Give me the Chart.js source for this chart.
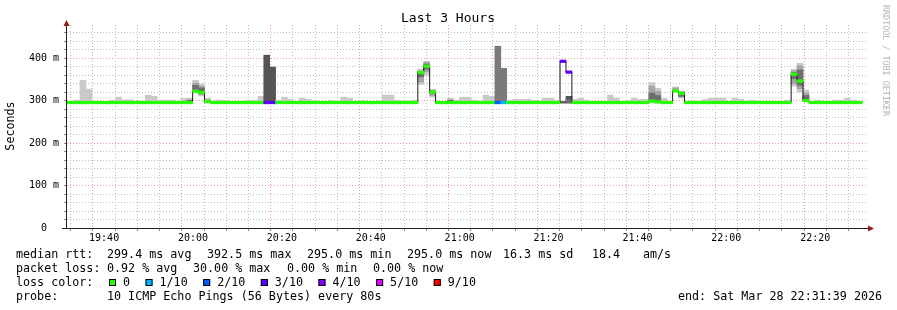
<!DOCTYPE html>
<html><head><meta charset="utf-8">
<script src="https://cdn.jsdelivr.net/npm/chart.js@4/dist/chart.umd.min.js"></script>
<style>html,body{margin:0;padding:0;background:#fff;overflow:hidden}canvas{display:block}</style>
</head><body><canvas id="c" width="897" height="310"></canvas>
<script>
// ---------------- data ----------------
const chartTitle = 'Last 3 Hours';
const axisTitle = 'Seconds';
const watermark = 'RRDTOOL / TOBI OETIKER';
const rangeStart = '19:31:39';
const rangeEnd = '22:31:39';
const firstStepEnd = '19:31:55';
const stepSeconds = 80;

// median round-trip time per step (ms)
const medianRtt = [
 295.4,295.4,295.4,295.4,295.4,295.4,295.4,295.4,295.4,295.4,
 295.4,295.4,295.4,295.4,295.4,295.4,295.4,295.4,295.4,295.4,
 295.4,295.4,322,319,298,295.4,295.4,295.4,295.4,295.4,
 295.4,295.4,295.4,295.4,295.4,295.4,295.4,295.4,295.4,295.4,
 295.4,295.4,295.4,295.4,295.4,295.4,295.4,295.4,295.4,295.4,
 295.4,295.4,295.4,295.4,295.4,295.4,295.4,295.4,295.4,295.4,
 366,381,320,295.4,295.4,295.4,295.4,295.4,295.4,295.4,
 295.4,295.4,295.4,295.4,295.4,295.4,295.4,295.4,295.4,295.4,
 295.4,295.4,295.4,295.4,392.5,367,295.4,295.4,295.4,295.4,
 295.4,295.4,295.4,295.4,295.4,295.4,295.4,295.4,295.4,299,
 297,295.4,295.4,323,317,295.4,295.4,295.4,295.4,295.4,
 295.4,295.4,295.4,295.4,295.4,295.4,295.4,295.4,295.4,295.4,
 295.4,295.4,295.4,362,346,300,295.4,295.4,295.4,295.4,
 295.4,295.4,295.4,295.4,295.4
];
// lost pings out of 10 per step
const lossTenths = [
 0,0,0,0,0,0,0,0,0,0, 0,0,0,0,0,0,0,0,0,0, 0,0,0,0,0,0,0,0,0,0,
 0,0,0,0,3,3,0,0,0,0, 0,0,0,0,0,0,0,0,0,0, 0,0,0,0,0,0,0,0,0,0,
 0,0,0,0,0,0,0,0,0,0, 0,0,0,2,1,0,0,0,0,0, 0,0,0,0,3,3,0,0,0,0,
 0,0,0,0,0,0,0,0,0,0, 0,0,0,0,0,0,0,0,0,0, 0,0,0,0,0,0,0,0,0,0,
 0,0,0,0,0,0,0,0,0,0, 0,0,0,0,0
];
// lowest and highest ping per step (ms)
const smokeMin = [
 294,294,294,294,294,294,294,294,294,294,
 294,294,294,294,294,294,294,294,294,294,
 294,294,318,311,294,294,294,294,294,294,
 294,294,294,294,294,294,294,294,294,294,
 294,294,294,294,294,294,294,294,294,294,
 294,294,294,294,294,294,294,294,294,294,
 338,360,308,294,294,294,294,294,294,294,
 294,294,294,294,294,294,294,294,294,294,
 294,294,294,294,294,294,294,294,294,294,
 294,294,294,294,294,294,294,294,294,294,
 294,294,294,320,306,294,294,294,294,294,
 294,294,294,294,294,294,294,294,294,294,
 294,294,294,334,320,298,294,294,294,294,
 294,294,294,294,294
];
const smokeMax = [
 298,298,301,348,327,298,298,298,301,308,
 302,302,298,298,313,310,301,301,301,298,
 305,306,348,339,306,299,301,301,298,298,
 298,301,301,310,407,379,301,308,303,298,
 306,303,300,298,298,300,298,308,306,298,
 300,298,298,298,313,313,301,298,298,301,
 374,393,326,298,298,306,301,308,308,301,
 298,313,310,428,376,301,303,303,303,301,
 298,306,306,300,298,310,303,306,301,298,
 298,298,313,306,298,300,306,303,303,342,
 329,306,298,332,322,298,298,298,303,306,
 306,306,298,306,303,298,301,298,298,298,
 298,298,301,374,388,325,298,301,298,298,
 301,301,306,301,298
];
// inner (denser) ping ranges, keyed by step number
const smokeInner = {22:[320,341],23:[314,334],60:[344,370],61:[368,390],62:[312,325],
 99:[298,334],100:[298,322],103:[322,330],104:[308,321],123:[340,370],124:[328,382],125:[300,318]};
const smokeCore = {21:[295,301],22:[326,336],23:[320,330],24:[295,301],60:[356,368],61:[374,386],
 62:[316,322],65:[295,301],85:[295,303],99:[298,318],100:[298,312],104:[310,317],123:[352,366],
 124:[336,372],125:[302,312]};

const lossLegend = ['0','1/10','2/10','3/10','4/10','5/10','9/10'];
const lossLegendTenths = [0,1,2,3,4,5,9];
const statsRtt = [['median rtt:',16],['299.4 ms avg',107],['392.5 ms max',207],['295.0 ms min',307],
 ['295.0 ms now',407],['16.3 ms sd',503],['18.4',592],['am/s',643]];
const statsLoss = [['packet loss:',16],['0.92 % avg',107],['30.00 % max',193],['0.00 % min',287],['0.00 % now',373]];
const probeText = '10 ICMP Echo Pings (56 Bytes) every 80s';
const endText = 'end: Sat Mar 28 22:31:39 2026';

// ---------------- styles ----------------
const MONO = '"DejaVu Sans Mono", monospace';
const lossColor = t => ({0:'#26ff00',1:'#00b8ff',2:'#0059ff',3:'#5e00ff',4:'#7e00ff',5:'#dd00ff'})[t] || '#ff0000';
const smokeShade = t => t >= 3 ? '#555555' : (t >= 1 ? '#7a7a7a' : '#c9c9c9');
const bandHalf = 3;

const toSec = s => { const p = s.split(':').map(Number); return p[0]*3600 + p[1]*60 + p[2]; };
const xMin = toSec(rangeStart)/60, xMax = toSec(rangeEnd)/60;
const ends = medianRtt.map((_, j) => (toSec(firstStepEnd) + j*stepSeconds)/60);
const centers = ends.map(t => t - stepSeconds/120);
const sparse = obj => Object.keys(obj).map(k => ({x: centers[+k], y: obj[k]}));

const deco = {
  id: 'deco',
  beforeDraw(c) { const g = c.ctx; g.save(); g.fillStyle = '#fff'; g.fillRect(0, 0, c.width, c.height); g.restore(); },
  afterDraw(c) {
    const g = c.ctx, a = c.chartArea;
    g.save();
    // axes
    g.strokeStyle = '#202020'; g.lineWidth = 1;
    g.beginPath(); g.moveTo(66.5, a.bottom + 0.5); g.lineTo(66.5, 21); g.stroke();
    g.beginPath(); g.moveTo(62, a.bottom + 0.5); g.lineTo(870, a.bottom + 0.5); g.stroke();
    g.fillStyle = '#9a1a1a';
    g.beginPath(); g.moveTo(63.5, 26); g.lineTo(69.5, 26); g.lineTo(66.5, 20); g.closePath(); g.fill();
    g.beginPath(); g.moveTo(868, a.bottom - 2.5); g.lineTo(868, a.bottom + 3.5); g.lineTo(874, a.bottom + 0.5); g.closePath(); g.fill();
    // title
    g.fillStyle = '#000'; g.textBaseline = 'middle';
    g.font = '13px ' + MONO; g.textAlign = 'center';
    g.fillText(chartTitle, 448, 19);
    // y title
    g.save(); g.translate(11, 126); g.rotate(-Math.PI/2);
    g.font = '11.7px ' + MONO; g.fillText(axisTitle, 0, 0); g.restore();
    // watermark
    g.save(); g.translate(885, 5); g.rotate(Math.PI/2);
    g.font = '8.4px ' + MONO; g.textAlign = 'left'; g.fillStyle = '#b4b4b4';
    g.fillText(watermark, 0, 0); g.restore();
    // legend
    g.font = '11.7px ' + MONO; g.textAlign = 'left'; g.fillStyle = '#000';
    statsRtt.forEach(([t, x]) => g.fillText(t, x, 254.5));
    statsLoss.forEach(([t, x]) => g.fillText(t, x, 268.5));
    g.fillText('loss color:', 16, 282.5);
    let lx = 109;
    lossLegend.forEach((lab, k) => {
      g.fillStyle = lossColor(lossLegendTenths[k]); g.fillRect(lx, 279, 7, 7);
      g.strokeStyle = '#000'; g.strokeRect(lx + 0.5, 279.5, 6, 6);
      g.fillStyle = '#000'; g.fillText(lab, lx + 14, 282.5);
      lx += 14 + g.measureText(lab).width + 15.5;
    });
    g.fillText('probe:', 16, 296.5);
    g.fillText(probeText, 107, 296.5);
    g.fillText(endText, 678, 296.5);
    g.restore();
  }
};

const fmt = v => { const h = Math.floor(v/60), m = Math.round(v%60); return String(h).padStart(2,'0') + ':' + String(m).padStart(2,'0'); };
const MAJOR = '#f29a9a', MINOR = '#bfbfbf';

new Chart(document.getElementById('c'), {
  type: 'bar',
  data: {
    datasets: [
      { label: 'smoke', data: centers.map((x, j) => ({x, y: [smokeMin[j], smokeMax[j]]})),
        backgroundColor: centers.map((_, j) => smokeShade(lossTenths[j])), grouped: false, order: 10,
        barPercentage: 1, categoryPercentage: 1, borderWidth: 0 },
      { label: 'smoke inner', data: sparse(smokeInner), backgroundColor: '#a6a6a6', grouped: false, order: 9,
        barPercentage: 1, categoryPercentage: 1, borderWidth: 0 },
      { label: 'smoke core', data: sparse(smokeCore), backgroundColor: '#6e6e6e', grouped: false, order: 8,
        barPercentage: 1, categoryPercentage: 1, borderWidth: 0 },
      { type: 'line', label: 'median', data: ends.map((x, j) => ({x, y: medianRtt[j]})),
        stepped: 'after', borderColor: '#1a1a1a', borderWidth: 1, pointRadius: 0, fill: false, order: 2 },
      { label: 'loss band', data: centers.map((x, j) => ({x, y: [medianRtt[j] - bandHalf, medianRtt[j] + bandHalf]})),
        backgroundColor: centers.map((_, j) => lossColor(lossTenths[j])), grouped: false, order: 1,
        barPercentage: 1, categoryPercentage: 1, borderWidth: 0 }
    ]
  },
  options: {
    responsive: false, animation: false, events: [], devicePixelRatio: 1,
    layout: { padding: { left: 0, right: 30, top: 25, bottom: 0 } },
    plugins: { legend: { display: false }, tooltip: { enabled: false }, title: { display: false } },
    scales: {
      x: {
        type: 'linear', min: xMin, max: xMax, offset: false,
        afterFit: s => { s.height = 82; },
        afterBuildTicks: s => {
          const t = []; for (let v = Math.ceil(xMin/5)*5; v <= xMax; v += 5) t.push({value: v}); s.ticks = t;
        },
        ticks: { autoSkip: false, maxRotation: 0, padding: 1, color: '#000',
          font: { family: MONO, size: 10 },
          callback: v => (v % 20 === 0 ? fmt(v) : '') },
        grid: { color: c => (c.tick && c.tick.value % 20 === 0 ? MAJOR : MINOR), lineWidth: 1,
          tickLength: 3, tickColor: '#888' },
        border: { display: false, dash: [1, 2] }
      },
      y: {
        min: 0, max: 478,
        afterFit: s => { s.width = 67; },
        ticks: { stepSize: 20, includeBounds: false, autoSkip: false, padding: 5, color: '#000',
          font: { family: MONO, size: 10 },
          callback: v => (v === 0 ? '0  ' : (v % 100 === 0 ? v + ' m' : '')) },
        grid: { color: c => (c.tick && c.tick.value % 100 === 0 ? MAJOR : MINOR), lineWidth: 1,
          tickLength: 3, tickColor: '#888' },
        border: { display: false, dash: [1, 2] }
      }
    }
  },
  plugins: [deco]
});
</script>
</body></html>
